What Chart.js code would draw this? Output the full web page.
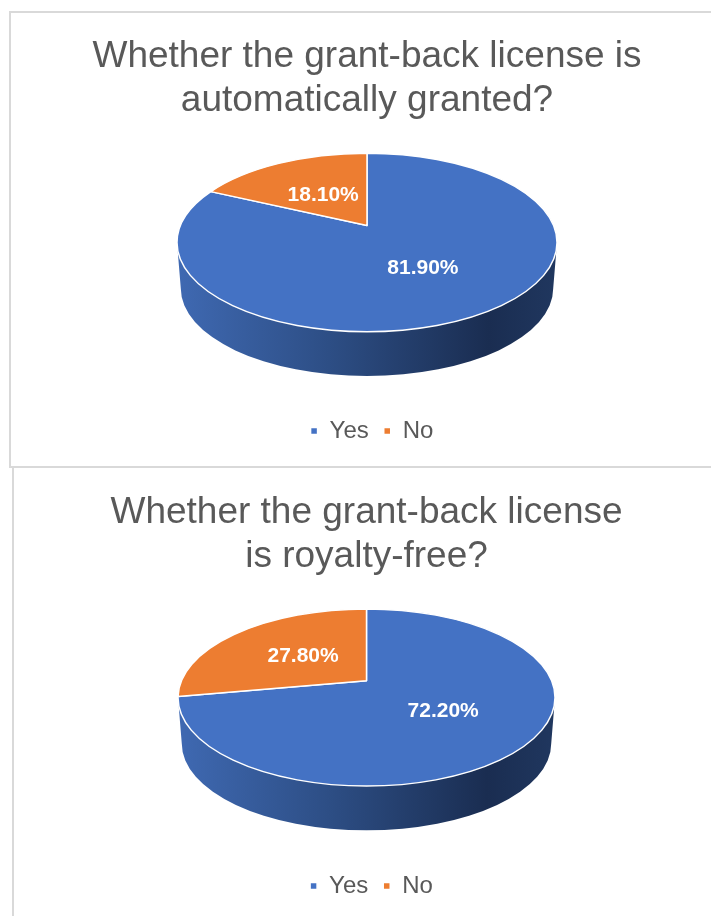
<!DOCTYPE html>
<html>
<head>
<meta charset="utf-8">
<title>Grant-back license</title>
<script src="https://cdn.jsdelivr.net/npm/chart.js@4/dist/chart.umd.js"></script>
<style>
  html, body { margin: 0; background: #fff; overflow: hidden; }
  #page { position: relative; width: 711px; height: 916px; overflow: hidden; }
  .panel { position: absolute; box-sizing: border-box; border: 2px solid #d9d9d9; }
  canvas { position: absolute; }
</style>
</head>
<body>
<div id="page">
  <div class="panel" style="left:9px;top:11px;width:740px;height:457px;"></div>
  <div class="panel" style="left:12px;top:466px;width:740px;height:500px;border-top:none;"></div>
  <canvas id="automatic" style="left:10px;top:10px;width:714px;height:456px;"></canvas>
  <canvas id="royalty" style="left:13px;top:466px;width:707px;height:450px;"></canvas>
</div>

<script>
const answers = ['Yes', 'No'];
const automaticTitle = ['Whether the grant-back license is', 'automatically granted?'];
const automaticValues = [81.9, 18.1];
const royaltyTitle = ['Whether the grant-back license', 'is royalty-free?'];
const royaltyValues = [72.2, 27.8];

const FONT = '"Liberation Sans", Arial, sans-serif';
const TILT = 0.47;        // vertical squash of the pie top
const APEX_LIFT = 0.19;   // slice apex sits above the ellipse centre (share of ry)
const SKEW = 0.19;        // perspective pull of the rim angles
const LABEL_AT = 0.49;    // labels sit this far from apex to rim

// rim point of the tilted pie for a Chart.js angle
function rimPoint(el, angle) {
  const t = angle + Math.PI / 2;
  const phi = t - SKEW * Math.sin(t) - Math.PI / 2;
  return {
    phi,
    x: el.x + el.outerRadius * Math.cos(phi),
    y: el.y + el.outerRadius * TILT * Math.sin(phi),
  };
}

// slices are drawn as tilted wedges, angles still come from the controller
Chart.ArcElement.prototype.draw = function (ctx) {
  const o = this.options;
  const ry = this.outerRadius * TILT;
  const a = rimPoint(this, this.startAngle);
  const b = rimPoint(this, this.endAngle);
  ctx.save();
  ctx.beginPath();
  ctx.moveTo(this.x, this.y - ry * APEX_LIFT);
  ctx.lineTo(a.x, a.y);
  ctx.ellipse(this.x, this.y, this.outerRadius, ry, 0, a.phi, b.phi);
  ctx.closePath();
  ctx.fillStyle = o.backgroundColor;
  ctx.fill();
  ctx.lineJoin = 'round';
  ctx.lineWidth = o.borderWidth;
  ctx.strokeStyle = o.borderColor;
  ctx.stroke();
  ctx.restore();
};

const tiltedPie = {
  id: 'tiltedPie',
  afterLayout(chart, args, opts) {
    // legend sits a little right of the title centre
    chart.legend.left += opts.legendShift;
    chart.legend.right += opts.legendShift;
  },
  beforeDatasetsDraw(chart, args, opts) {
    const el = chart.getDatasetMeta(0).data[0];
    const { ctx } = chart;
    const rx = el.outerRadius, ry = rx * TILT;
    const rx2 = rx * 0.98, ry2 = ry * 0.98, y2 = el.y + opts.depth;

    const grad = ctx.createLinearGradient(el.x - rx, 0, el.x + rx, 0);
    grad.addColorStop(0, '#3f69b2');
    grad.addColorStop(0.4, '#2d4e85');
    grad.addColorStop(0.82, '#1a2d51');
    grad.addColorStop(1, '#20375f');

    ctx.save();
    ctx.beginPath();
    ctx.moveTo(el.x - rx, el.y);
    ctx.lineTo(el.x - rx2, y2);
    ctx.ellipse(el.x, y2, rx2, ry2, 0, Math.PI, 0, true);
    ctx.lineTo(el.x + rx, el.y);
    ctx.closePath();
    ctx.fillStyle = grad;
    ctx.fill();
    ctx.restore();
  },
  afterDatasetsDraw(chart) {
    const { ctx } = chart;
    const meta = chart.getDatasetMeta(0);
    const values = chart.data.datasets[0].data;
    ctx.save();
    ctx.font = 'bold 21px ' + FONT;
    ctx.fillStyle = '#fff';
    ctx.textAlign = 'center';
    ctx.textBaseline = 'middle';
    meta.data.forEach((el, i) => {
      const rim = rimPoint(el, (el.startAngle + el.endAngle) / 2);
      const apexY = el.y - el.outerRadius * TILT * APEX_LIFT;
      const x = el.x + (rim.x - el.x) * LABEL_AT - 2;
      const y = apexY + (rim.y - apexY) * LABEL_AT;
      ctx.fillText(values[i].toFixed(2) + '%', x, y);
    });
    ctx.restore();
  },
};

function pieChart(id, title, values, radius, titlePadding, bottomGap) {
  return new Chart(document.getElementById(id), {
    type: 'pie',
    data: {
      labels: answers,
      datasets: [{
        data: values,
        radius,
        clip: false,
        backgroundColor: ['#4472c4', '#ed7d31'],
        borderColor: '#ffffff',
        borderWidth: 1.5,
      }],
    },
    plugins: [tiltedPie],
    options: {
      responsive: false,
      animation: false,
      layout: { padding: { bottom: bottomGap } },
      plugins: {
        tooltip: { enabled: false },
        title: {
          display: true,
          text: title,
          color: '#595959',
          font: { family: FONT, size: 37, weight: 'normal', lineHeight: 44 / 37 },
          padding: titlePadding,
        },
        legend: {
          position: 'bottom',
          labels: {
            color: '#595959',
            font: { family: FONT, size: 24 },
            boxWidth: 7,
            boxHeight: 7,
            padding: 15,
          },
        },
        tiltedPie: { depth: 46, legendShift: 5 },
      },
    },
  });
}

// the canvases get their drawing size from the css box
['automatic', 'royalty'].forEach(id => {
  const c = document.getElementById(id);
  c.width = parseInt(c.style.width);
  c.height = parseInt(c.style.height);
});

// negative bottom padding lets the chart area run up behind the title,
// which puts the pie centre where it belongs
pieChart('automatic', automaticTitle, automaticValues, 190, { top: 25, bottom: -42 }, 13);
pieChart('royalty', royaltyTitle, royaltyValues, 188.5, { top: 25, bottom: -43 }, 8);
</script>
</body>
</html>
